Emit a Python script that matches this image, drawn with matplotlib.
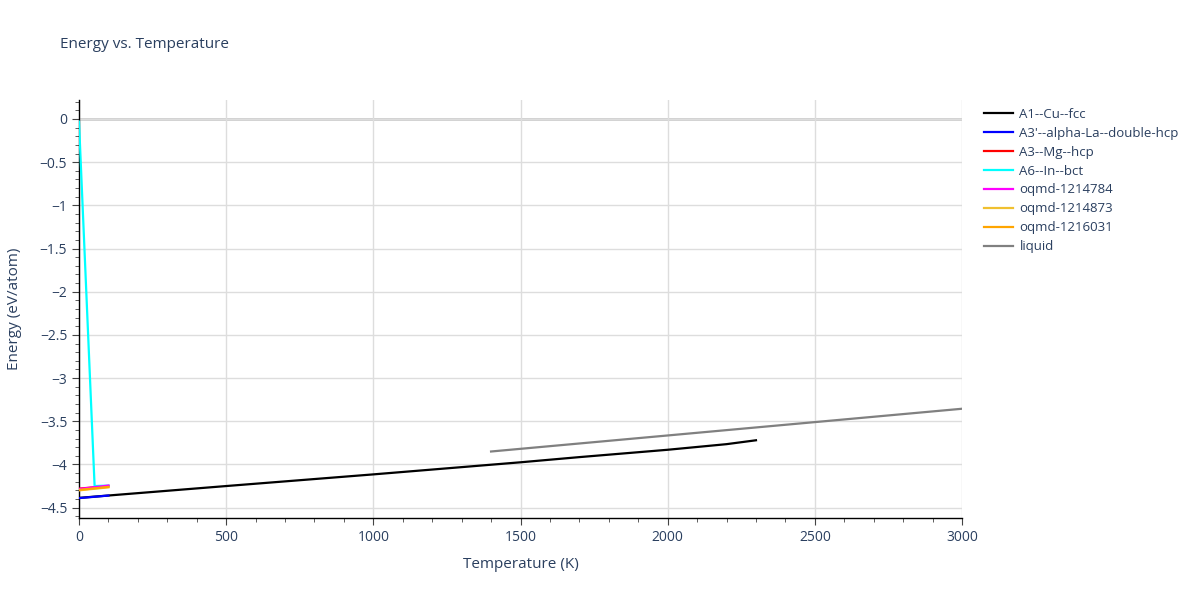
import matplotlib.pyplot as plt
import numpy as np
from matplotlib.ticker import MultipleLocator

# donnees
cu_T = [0, 500, 1000, 1500, 1700, 2000, 2200, 2300]
cu_E = [-4.387, -4.25, -4.115, -3.975, -3.915, -3.83, -3.765, -3.72]

la_T = [0, 100]
la_E = [-4.39, -4.36]

mg_T = [0, 100]
mg_E = [-4.28, -4.25]

in_T = [0, 53, 100]
in_E = [-0.03, -4.25, -4.245]

q784_T = [0, 100]
q784_E = [-4.285, -4.244]

q873_T = [0, 100]
q873_E = [-4.30, -4.265]

q031_T = [0, 100]
q031_E = [-4.295, -4.26]

liq_T = [1400, 3000]
liq_E = [-3.85, -3.355]

txt = '#2a3f5f'
plt.rcParams['font.family'] = ['Open Sans', 'DejaVu Sans']

fig = plt.figure(figsize=(12, 6), dpi=100)
ax = fig.add_axes([79/1200, 1 - 518/600, (962-79)/1200, (518-100)/600])

lw = 1.6
ax.plot(cu_T, cu_E, color='black', lw=lw, label='A1--Cu--fcc', zorder=3)
ax.plot(la_T, la_E, color='blue', lw=lw, label="A3'--alpha-La--double-hcp", zorder=3)
ax.plot(mg_T, mg_E, color='red', lw=lw, label='A3--Mg--hcp', zorder=3)
ax.plot(in_T, in_E, color='cyan', lw=lw, label='A6--In--bct', zorder=3)
ax.plot(q784_T, q784_E, color='magenta', lw=lw, label='oqmd-1214784', zorder=3)
ax.plot(q873_T, q873_E, color='#f0c030', lw=lw, label='oqmd-1214873', zorder=3)
ax.plot(q031_T, q031_E, color='orange', lw=lw, label='oqmd-1216031', zorder=3)
ax.plot(liq_T, liq_E, color='gray', lw=lw, label='liquid', zorder=3)

ax.set_xlim(0, 3000)
ax.set_ylim(-4.62, 0.22)
ax.xaxis.set_major_locator(MultipleLocator(500))
ax.xaxis.set_minor_locator(MultipleLocator(100))
ax.yaxis.set_major_locator(MultipleLocator(0.5))
ax.yaxis.set_minor_locator(MultipleLocator(0.1))
ax.grid(True, which='major', color='#dddddd', lw=1, zorder=0)
ax.axhline(0, color='#cccccc', lw=2, zorder=1)

for s in ['top', 'right']:
    ax.spines[s].set_visible(False)
for s in ['left', 'bottom']:
    ax.spines[s].set_color('black')
    ax.spines[s].set_linewidth(1)

ax.tick_params(which='major', direction='out', length=5, color='#444444', labelcolor=txt, labelsize=10)
ax.tick_params(which='minor', direction='out', length=3, color='#444444')

yt = np.arange(-4.5, 0.01, 0.5)
ax.set_yticks(yt)
ax.set_yticklabels(['0' if abs(v) < 1e-9 else ('%g' % v).replace('-', '−') for v in yt])
xt = np.arange(0, 3001, 500)
ax.set_xticks(xt)
ax.set_xticklabels([str(int(v)) for v in xt])

ax.set_xlabel('Temperature (K)', color=txt, fontsize=11, labelpad=9)
ax.set_ylabel('Energy (eV/atom)', color=txt, fontsize=11, labelpad=13)

fig.text(60/1200, 1 - 45/600, 'Energy vs. Temperature', color=txt, fontsize=11, va='center')

leg = ax.legend(loc='upper left', bbox_to_anchor=(1.012, 1.01), frameon=False,
                fontsize=9.5, labelcolor=txt, handlelength=2.2, handletextpad=0.45,
                labelspacing=0.45)

plt.savefig('out.png', dpi=100)
